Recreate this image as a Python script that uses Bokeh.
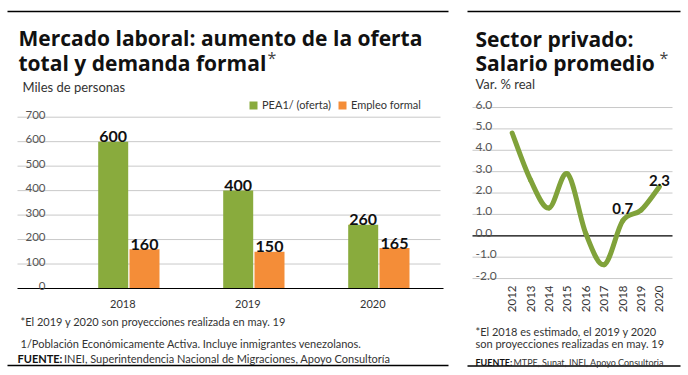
import numpy as np
from bokeh.plotting import figure
from bokeh.models import Range1d, ColumnDataSource, Label, Legend, LegendItem
from bokeh.layouts import row
from bokeh.embed import file_html
from bokeh.resources import INLINE
from bokeh.core.properties import value
from bokeh.transform import dodge

# ---------------- data ----------------
years = ["2018", "2019", "2020"]
pea = [600, 400, 260]          # PEA1/ (oferta), miles de personas
empleo = [160, 150, 165]       # Empleo formal, miles de personas
bar_ticks = [0, 100, 200, 300, 400, 500, 600, 700]

wage_years = [2012, 2013, 2014, 2015, 2016, 2017, 2018, 2019, 2020]
wage = [4.8, 2.6, 1.3, 2.9, 0.1, -1.35, 0.7, 1.2, 2.3]
wage_ticks = [-2.0, -1.0, 0.0, 1.0, 2.0, 3.0, 4.0, 5.0, 6.0]
wage_label_years = [2018, 2020]
wage_label_values = [0.7, 2.3]

# ---------------- styles ----------------
FONT = "Lato"
TFONT = "Open Sans"
GREEN = "#89ab3d"
ORANGE = "#f48d38"
LINE_GREEN = "#80a23a"
GRID = "#c9c9c9"
TICK_COL = "#555555"
TXT = "#222222"

# ================= LEFT PANEL =================
LW, LH = 455, 375
L_X0, L_DX = 128.35, 125.0        # px of first category centre, px per category
L_Y0, L_DY = 288.0, 171.3 / 700   # px of zero line, px per unit


def lx(px):
    return (px - L_X0) / L_DX


def ly(py):
    return (L_Y0 - py) / L_DY


pL = figure(width=LW, height=LH, x_range=Range1d(lx(0), lx(LW)),
            y_range=Range1d(ly(LH), ly(0)), output_backend="svg",
            toolbar_location=None, min_border=0, x_axis_location=None,
            y_axis_location=None, outline_line_color=None,
            background_fill_color="white", border_fill_color="white")
pL.grid.visible = False

# grid lines
pL.segment(x0=lx(17), x1=lx(440), y0=bar_ticks[1:], y1=bar_ticks[1:],
           line_color=GRID, line_width=1)

src = ColumnDataSource(dict(
    idx=list(range(len(years))), year=years, pea=pea, emp=empleo,
    pea_txt=[str(v) for v in pea], emp_txt=[str(v) for v in empleo],
    pea_lab=[v + 5 / L_DY for v in pea], emp_lab=[v + 5 / L_DY for v in empleo],
))
OFF = 0.1252
BW = 30 / L_DX
g = pL.vbar(x=dodge("idx", -OFF), top="pea", bottom=0, width=BW, source=src,
            fill_color=GREEN, line_color=None)
o = pL.vbar(x=dodge("idx", OFF), top="emp", bottom=0, width=BW, source=src,
            fill_color=ORANGE, line_color=None)

# baseline
pL.segment(x0=[lx(17)], x1=[lx(443)], y0=[0], y1=[0], line_color="black", line_width=1.2)

# value labels
pL.text(x=dodge("idx", -OFF), y="pea_lab", text="pea_txt", source=src,
        text_font=value(FONT), text_font_style="bold", text_font_size="16px",
        text_align="center", text_baseline="alphabetic", text_color="#111111")
pL.text(x=dodge("idx", OFF), y="emp_lab", text="emp_txt", source=src,
        text_font=value(FONT), text_font_style="bold", text_font_size="16px",
        text_align="center", text_baseline="alphabetic", text_color="#111111")

# y tick labels (sit above grid lines)
pL.text(x=[lx(45)] * len(bar_ticks), y=[t + 2.5 / L_DY for t in bar_ticks],
        text=[str(t) for t in bar_ticks], text_font=value(FONT), text_font_size="11.5px",
        text_align="right", text_baseline="alphabetic", text_color=TICK_COL)

# x category labels
pL.text(x=dodge("idx", -6 / L_DX), y=ly(303), text="year", source=src,
        text_font=value(FONT), text_font_size="11px", text_align="center",
        text_baseline="alphabetic", text_color="#333333")

legend = Legend(items=[LegendItem(label="PEA1/ (oferta)", renderers=[g]),
                       LegendItem(label="Empleo formal", renderers=[o])],
                orientation="horizontal", location=(248, LH - 111),
                glyph_width=10, glyph_height=10, label_standoff=4, spacing=6,
                padding=0, margin=0, border_line_color=None,
                background_fill_alpha=0, label_text_font=FONT,
                label_text_font_size="11px", label_height=10,
                label_text_color="#333333")
pL.add_layout(legend)


def add_label(p, fx, fy, px, py, text, size, bold=False, color=TXT, font=FONT):
    p.add_layout(Label(x=fx(px), y=fy(py), text=text, text_font=font,
                       text_font_size=size, text_font_style="bold" if bold else "normal",
                       text_color=color, text_align="left", text_baseline="alphabetic"))


# titles
add_label(pL, lx, ly, 18, 37.5, "Mercado laboral: aumento de la oferta", "21px", True, "#111111", TFONT)
add_label(pL, lx, ly, 18, 62.5, "total y demanda formal", "21px", True, "#111111", TFONT)
add_label(pL, lx, ly, 267, 57, "*", "16px", False, "#444444", TFONT)
add_label(pL, lx, ly, 22, 86, "Miles de personas", "13px", False, "#333333")

# footnotes
add_label(pL, lx, ly, 20, 321, "*El 2019 y 2020 son proyecciones realizada en may. 19", "11px", False, "#333333")
add_label(pL, lx, ly, 20, 343, "1/Población Económicamente Activa. Incluye inmigrantes venezolanos.", "11px", False, "#333333")
add_label(pL, lx, ly, 17, 358, "FUENTE:", "11px", True, "#111111")
add_label(pL, lx, ly, 63.5, 358, "INEI, Superintendencia Nacional de Migraciones, Apoyo Consultoría", "11px", False, "#333333")

# rules
pL.segment(x0=[lx(7), lx(7)], x1=[lx(448), lx(448)], y0=[ly(11), ly(365)],
           y1=[ly(11), ly(365)], line_color="black", line_width=1.3)

# ================= RIGHT PANEL =================
RW, RH = 233, 375
R_X0, R_DX = 56.7, 18.41      # px (local) of 2012, px per year
R_Y0, R_DY = 235.3, 21.38     # px of zero, px per unit


def rx(px):
    return wage_years[0] + (px - R_X0) / R_DX


def ry(py):
    return (R_Y0 - py) / R_DY


pR = figure(width=RW, height=RH, x_range=Range1d(rx(0), rx(RW)),
            y_range=Range1d(ry(RH), ry(0)), output_backend="svg",
            toolbar_location=None, min_border=0, x_axis_location=None,
            y_axis_location=None, outline_line_color=None,
            background_fill_color="white", border_fill_color="white")
pR.grid.visible = False

nz = [t for t in wage_ticks if t != 0]
pR.segment(x0=rx(17), x1=rx(217), y0=nz, y1=nz, line_color=GRID, line_width=1)
pR.segment(x0=[rx(17)], x1=[rx(217)], y0=[0], y1=[0], line_color="black", line_width=1.2)

pR.text(x=[rx(20)] * len(wage_ticks), y=[t + 3 / R_DY for t in wage_ticks],
        text=[f"{t:.1f}" for t in wage_ticks], text_font=value(FONT),
        text_font_size="12px", text_align="left", text_baseline="alphabetic",
        text_color=TICK_COL)

# smooth curve through the points (Catmull-Rom as cubic Bezier segments)
P = np.column_stack([np.array(wage_years, float), np.array(wage, float)])
Pe = np.vstack([P[0], P, P[-1]])
bx0, by0, bx1, by1, cx0, cy0, cx1, cy1 = [], [], [], [], [], [], [], []
for i in range(len(P) - 1):
    p0, p1, p2, p3 = Pe[i], Pe[i + 1], Pe[i + 2], Pe[i + 3]
    c1 = p1 + (p2 - p0) / 6.0
    c2 = p2 - (p3 - p1) / 6.0
    bx0.append(p1[0]); by0.append(p1[1]); bx1.append(p2[0]); by1.append(p2[1])
    cx0.append(c1[0]); cy0.append(c1[1]); cx1.append(c2[0]); cy1.append(c2[1])
pR.bezier(x0=bx0, y0=by0, x1=bx1, y1=by1, cx0=cx0, cy0=cy0, cx1=cx1, cy1=cy1,
          line_color=LINE_GREEN, line_width=5, line_cap="round")

# value labels on the curve
lab_gap = [12, 6]
pR.text(x=wage_label_years, y=[v + gp / R_DY for v, gp in zip(wage_label_values, lab_gap)],
        text=[f"{v:.1f}" for v in wage_label_values], text_font=value(FONT),
        text_font_style="bold", text_font_size="15px", text_align="center",
        text_baseline="alphabetic", text_color="#111111")

# rotated year labels
pR.text(x=wage_years, y=[ry(285)] * len(wage_years), text=[str(y) for y in wage_years],
        angle=np.pi / 2, text_font=value(FONT), text_font_size="11.5px",
        text_align="right", text_baseline="middle", text_color="#333333")

add_label(pR, rx, ry, 20, 38, "Sector privado:", "21px", True, "#111111", TFONT)
add_label(pR, rx, ry, 20, 62.5, "Salario promedio", "21px", True, "#111111", TFONT)
add_label(pR, rx, ry, 204, 57, "*", "16px", False, "#444444", TFONT)
add_label(pR, rx, ry, 20, 83, "Var. % real", "13px", False, "#333333")

add_label(pR, rx, ry, 20, 330.5, "*El 2018 es estimado, el 2019 y 2020", "11px", False, "#333333")
add_label(pR, rx, ry, 20, 343, "son proyecciones realizadas en may. 19", "11px", False, "#333333")
add_label(pR, rx, ry, 20, 361.5, "FUENTE:", "9px", True, "#111111")
add_label(pR, rx, ry, 58, 361.5, "MTPE, Sunat, INEI, Apoyo Consultoria", "9px", False, "#333333")

pR.segment(x0=[rx(12), rx(12)], x1=[rx(225), rx(225)], y0=[ry(11), ry(365.5)],
           y1=[ry(11), ry(365.5)], line_color="black", line_width=1.3)

layout = row(pL, pR, spacing=0)
open("out.html", "w").write(file_html(layout, INLINE))
